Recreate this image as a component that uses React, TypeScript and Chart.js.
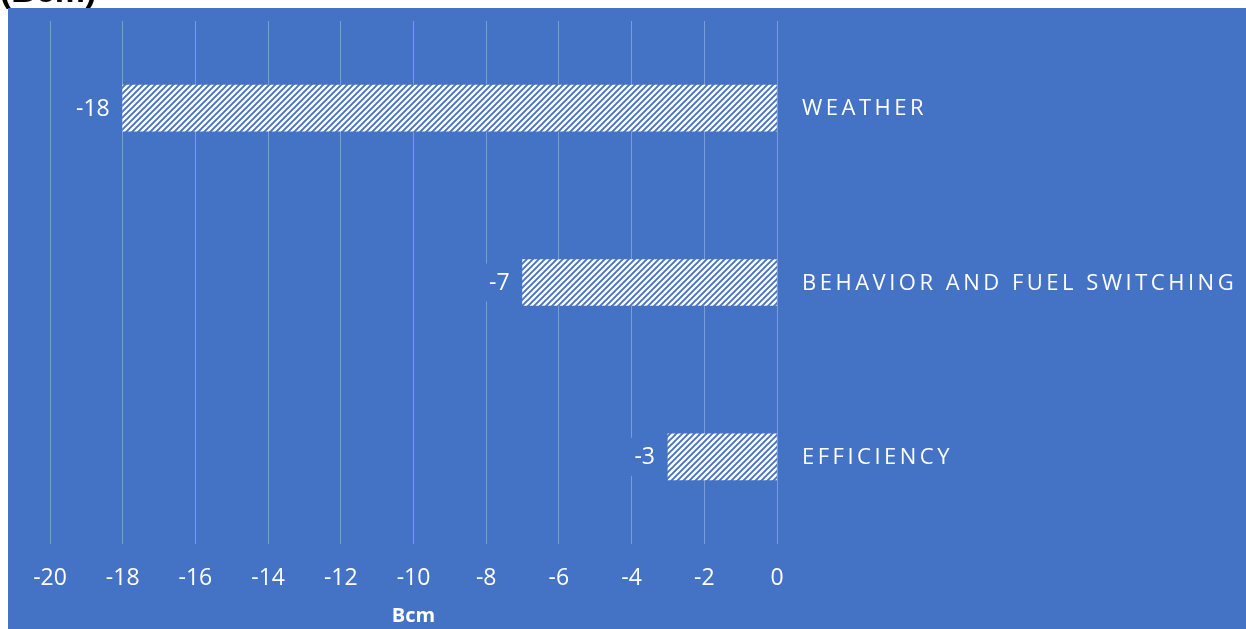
import React, { useEffect, useRef } from "react";
import { Chart, registerables } from "chart.js";

Chart.register(...registerables);

// Drivers of the change in gas demand (Bcm)
const categories: string[] = ["WEATHER", "BEHAVIOR AND FUEL SWITCHING", "EFFICIENCY"];
const changeBcm: number[] = [-18, -7, -3];
const axisMin = -20;
const axisMax = 0;
const axisStep = 2;
const unitTitle = "(Bcm)";
const axisTitle = "Bcm";

const PANEL_BLUE = "#4472C4";
const FONT = "'Open Sans', 'Liberation Sans', sans-serif";

// White tile with upward diagonal stripes in the panel blue
function makeHatch(): CanvasPattern | string {
  const s = 6;
  const tile = document.createElement("canvas");
  tile.width = s;
  tile.height = s;
  const c = tile.getContext("2d");
  if (!c) return "#ffffff";
  c.fillStyle = "#ffffff";
  c.fillRect(0, 0, s, s);
  c.strokeStyle = PANEL_BLUE;
  c.lineWidth = 1.9;
  c.beginPath();
  c.moveTo(-1, s + 1);
  c.lineTo(s + 1, -1);
  c.moveTo(-1, 1);
  c.lineTo(1, -1);
  c.moveTo(s - 1, s + 1);
  c.lineTo(s + 1, s - 1);
  c.stroke();
  const pctx = document.createElement("canvas").getContext("2d");
  return pctx ? (pctx.createPattern(tile, "repeat") as CanvasPattern) : "#ffffff";
}

// Page background, the cut-off unit heading and the blue panel
const panelPlugin = {
  id: "panel",
  beforeDraw(chart: Chart) {
    const { ctx, width, height } = chart;
    ctx.save();
    ctx.fillStyle = "#ffffff";
    ctx.fillRect(0, 0, width, height);
    ctx.fillStyle = "#000000";
    ctx.font = "bold 34px 'Liberation Sans', Arial, sans-serif";
    ctx.textAlign = "left";
    ctx.textBaseline = "alphabetic";
    ctx.fillText(unitTitle, 0, 2);
    ctx.fillStyle = PANEL_BLUE;
    ctx.fillRect(8, 8, width - 8, height - 8);
    ctx.restore();
  },
};

// Value labels beside each bar and the spaced category names on the right
const labelsPlugin = {
  id: "barLabels",
  afterDatasetsDraw(chart: Chart) {
    const { ctx, chartArea } = chart;
    const meta = chart.getDatasetMeta(0);
    const yScale = chart.scales.y;
    ctx.save();
    ctx.font = `23px ${FONT}`;
    ctx.textBaseline = "middle";
    meta.data.forEach((bar: any, i: number) => {
      const text = String(changeBcm[i]);
      const w = ctx.measureText(text).width;
      const xr = bar.x - 13;
      ctx.fillStyle = PANEL_BLUE;
      ctx.fillRect(xr - w - 6, bar.y - 19, w + 12, 38);
      ctx.fillStyle = "#ffffff";
      ctx.textAlign = "right";
      ctx.fillText(text, xr, bar.y + 1);
    });
    ctx.font = `22px ${FONT}`;
    (ctx as any).letterSpacing = "3.5px";
    ctx.textAlign = "left";
    ctx.fillStyle = "#ffffff";
    categories.forEach((name, i) => {
      ctx.fillText(name, chartArea.right + 25, yScale.getPixelForValue(i) + 1);
    });
    ctx.restore();
  },
};

export default function App() {
  const canvasRef = useRef<HTMLCanvasElement | null>(null);

  useEffect(() => {
    const canvas = canvasRef.current;
    if (!canvas) return;
    const chart = new Chart(canvas, {
      type: "bar",
      data: {
        labels: categories,
        datasets: [
          {
            data: changeBcm,
            backgroundColor: makeHatch() as any,
            borderWidth: 0,
            barThickness: 46,
          },
        ],
      },
      options: {
        indexAxis: "y",
        responsive: false,
        animation: false,
        devicePixelRatio: 1,
        layout: { padding: { top: 21, left: 50, right: 469, bottom: 0 } },
        plugins: {
          legend: { display: false },
          tooltip: { enabled: false },
          title: { display: false },
        },
        scales: {
          x: {
            min: axisMin,
            max: axisMax,
            afterFit: (scale: any) => {
              scale.height = 85;
            },
            ticks: {
              stepSize: axisStep,
              color: "#ffffff",
              font: { family: FONT, size: 23 },
              padding: 21,
            },
            grid: {
              color: "rgba(255,255,255,0.3)",
              lineWidth: 1,
              drawTicks: false,
            },
            border: { display: false },
            title: {
              display: true,
              text: axisTitle,
              color: "#ffffff",
              font: { family: FONT, size: 20, weight: "bold" },
              padding: { top: 0, bottom: 1 },
            },
          },
          y: {
            display: false,
          },
        },
      },
      plugins: [panelPlugin, labelsPlugin],
    });
    return () => chart.destroy();
  }, []);

  return (
    <div style={{ position: "absolute", left: 0, top: 0, width: 1246, height: 629 }}>
      <canvas ref={canvasRef} width={1246} height={629} />
    </div>
  );
}
